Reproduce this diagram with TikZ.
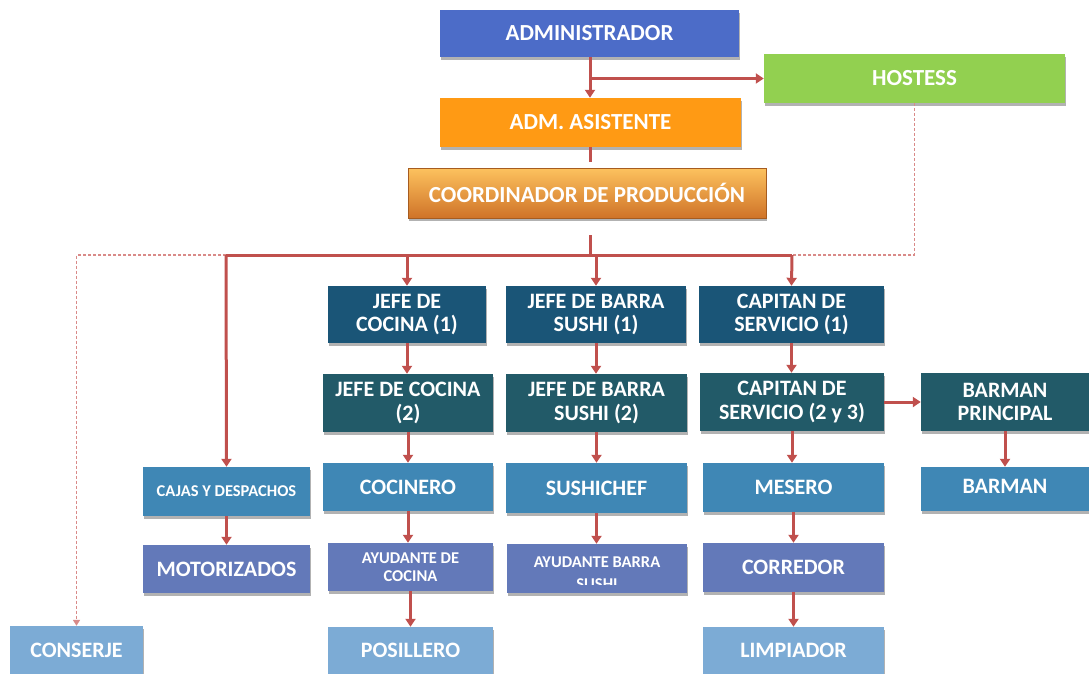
\documentclass[tikz,border=0pt]{standalone}
\usepackage{fontspec}
\setmainfont{Carlito}
\usetikzlibrary{arrows.meta,shadows}

\definecolor{lnred}{HTML}{C0504D}
\definecolor{dashred}{HTML}{D98A88}
\definecolor{cadm}{HTML}{4C6CC8}
\definecolor{chost}{HTML}{92D050}
\definecolor{casist}{HTML}{FF9A14}
\definecolor{ccoordTop}{HTML}{FDC25E}
\definecolor{ccoordMid}{HTML}{F7922C}
\definecolor{ccoordBot}{HTML}{CF7328}
\definecolor{crowA}{HTML}{1A5577}
\definecolor{crowB}{HTML}{225A68}
\definecolor{crowC}{HTML}{3F87B5}
\definecolor{crowD}{HTML}{6379B9}
\definecolor{crowE}{HTML}{7CABD5}

\begin{document}
\begin{tikzpicture}[x=1pt,y=-1pt,
  box/.style={draw=none, text=white, align=center, inner sep=0pt,
    font=\bfseries\fontsize{22}{23.5}\selectfont,
    drop shadow={shadow xshift=1pt, shadow yshift=-3pt, opacity=0.3, fill=black}},
  big/.style={font=\bfseries\fontsize{23}{25}\selectfont},
  small/.style={font=\bfseries\fontsize{16.5}{17.5}\selectfont},
  sz/.style 2 args={minimum width=#1pt, minimum height=#2pt},
  conn/.style={draw=lnred, line width=3pt},
  dconn/.style={draw=dashred, line width=1.8pt, dash pattern=on 3pt off 2pt},
  tip/.tip={Triangle[width=10pt,length=8pt]},
  stip/.tip={Triangle[width=7pt,length=6pt]}]

\useasboundingbox (0,0) rectangle (1089,674);

% top of the chart
\node[box, big, fill=cadm, sz={299}{47}] (adm) at (589.5,33.5) {ADMINISTRADOR};
\node[box, big, fill=chost, sz={301}{49}] (host) at (914.5,78.5) {HOSTESS};
\node[box, big, fill=casist, sz={301}{49}] (asist) at (590.5,122.5) {ADM. ASISTENTE};
\node[box, big, top color=ccoordTop, middle color=ccoordMid, bottom color=ccoordBot,
      draw=ccoordBot!80!black, line width=0.6pt, sz={358}{50}] (coord) at (587,193)
      {COORDINADOR DE PRODUCCIÓN};

% kitchen column
\node[box, fill=crowA, sz={158}{57}] (jc1) at (407,314.5) {JEFE DE\\COCINA (1)};
\node[box, fill=crowB, sz={170}{58}] (jc2) at (408,403) {JEFE DE COCINA\\(2)};
\node[box, fill=crowC, sz={170}{48}] (coc) at (408,487) {COCINERO};
\node[box, small, fill=crowD, sz={165}{48}] (ayc) at (410.5,567) {AYUDANTE DE\\COCINA};
\node[box, fill=crowE, sz={165}{47}] (pos) at (410.5,650.5) {POSILLERO};

% sushi bar column
\node[box, fill=crowA, sz={180}{57}] (jbs1) at (596,314.5) {JEFE DE BARRA\\SUSHI (1)};
\node[box, fill=crowB, sz={181}{58}] (jbs2) at (596.5,403) {JEFE DE BARRA\\SUSHI (2)};
\node[box, fill=crowC, sz={181}{50}] (sushi) at (596.5,488) {SUSHICHEF};
\node[box, fill=crowD, sz={180}{49},
      path picture={
        \clip (path picture bounding box.north west) rectangle ([yshift=9pt]path picture bounding box.south east);
        \node[text=white, align=center, inner sep=0pt, font=\bfseries\fontsize{16.5}{22}\selectfont]
          at ([yshift=-5pt]path picture bounding box.center) {AYUDANTE BARRA\\SUSHI};}] (ayb) at (597,568.5) {};

% service column
\node[box, fill=crowA, sz={185}{57}] (cap1) at (791.5,314.5) {CAPITAN DE\\SERVICIO (1)};
\node[box, fill=crowB, sz={184}{58}] (cap2) at (792,402) {CAPITAN DE\\SERVICIO (2 y 3)};
\node[box, fill=crowC, sz={181}{49}] (mes) at (793.5,487.5) {MESERO};
\node[box, fill=crowD, sz={181}{49}] (cor) at (793.5,567.5) {CORREDOR};
\node[box, fill=crowE, sz={181}{47}] (lim) at (793.5,650.5) {LIMPIADOR};

% bar column
\node[box, fill=crowB, sz={168}{58}] (bp) at (1005,402) {BARMAN\\PRINCIPAL};
\node[box, fill=crowC, sz={168}{44}, text depth=6pt] (bar) at (1005,489) {BARMAN};

% dispatch column
\node[box, small, fill=crowC, sz={167}{49}] (caj) at (226.5,491.5) {CAJAS Y DESPACHOS};
\node[box, fill=crowD, sz={167}{48}] (mot) at (226.5,569) {MOTORIZADOS};
\node[box, fill=crowE, sz={133}{48}] (con) at (76.5,650) {CONSERJE};

% helper points of the main bus
\coordinate (trunk) at (590,0);
\coordinate (stub) at (590,235);
\coordinate (busL) at (226,255);
\coordinate (busR) at (792,255);

% dashed staff links
\draw[dconn] (host.south) |- (busR);
\draw[dconn, -{stip}] (busL) -| (con.north);

% solid reporting lines
\draw[conn, -{tip}] (adm.south -| trunk) -- (asist.north -| trunk);
\draw[conn, -{tip}] (adm.south -| trunk) |- (host.west);
\draw[conn] (asist.south -| trunk) -- ++(0,15);
\draw[conn] (stub) -- (stub |- busL);
\draw[conn] (busL) -- (busR);
\draw[conn, -{tip}] (busL) -- (caj.north);
\draw[conn, -{tip}] (jc1.north |- busL) -- (jc1.north);
\draw[conn, -{tip}] (jbs1.north |- busL) -- (jbs1.north);
\draw[conn, -{tip}] (busR) -- (cap1.north);

\draw[conn, -{tip}] (jc1.south) -- (jc1.south |- jc2.north);
\draw[conn, -{tip}] (jc2.south) -- (jc2.south |- coc.north);
\draw[conn, -{tip}] (coc.south) -- (coc.south |- ayc.north);
\draw[conn, -{tip}] (ayc.south) -- (ayc.south |- pos.north);

\draw[conn, -{tip}] (jbs1.south) -- (jbs1.south |- jbs2.north);
\draw[conn, -{tip}] (jbs2.south) -- (jbs2.south |- sushi.north);
\draw[conn, -{tip}] (sushi.south) -- (sushi.south |- ayb.north);

\draw[conn, -{tip}] (cap1.south) -- (cap1.south |- cap2.north);
\draw[conn, -{tip}] (cap2.south) -- (cap2.south |- mes.north);
\draw[conn, -{tip}] (mes.south) -- (mes.south |- cor.north);
\draw[conn, -{tip}] (cor.south) -- (cor.south |- lim.north);
\draw[conn, -{tip}] (cap2.east) -- (bp.west);
\draw[conn, -{tip}] (bp.south) -- (bar.north);

\draw[conn, -{tip}] (caj.south) -- (mot.north);
\end{tikzpicture}
\end{document}
